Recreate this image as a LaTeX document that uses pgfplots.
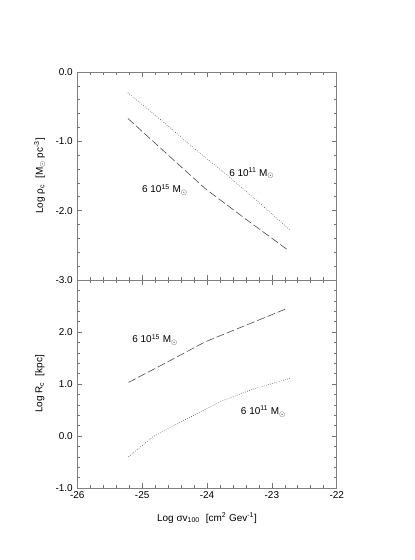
\documentclass[border=0pt]{standalone}
\usepackage{pgfplots}
\pgfplotsset{compat=1.18}
\usepackage{fontspec}
\setmainfont{Liberation Sans}
\newcommand{\Msun}{M\textsubscript{$\odot$}}
\begin{document}
\fontsize{10}{12}\selectfont
\begin{tikzpicture}
\path[use as bounding box] (0,0) rectangle (415bp,560bp);
\pgfplotsset{
  myaxis/.style={
    scale only axis, width=259.4bp, height=208bp,
    xmin=-26, xmax=-22,
    axis line style={draw=black!50, line width=0.8pt},
    tick style={draw=black!55, line width=0.6pt},
    tick align=inside,
    major tick length=5bp, minor tick length=2.7bp,
    minor x tick num=4, minor y tick num=4,
    xtick={-26,-25,-24,-23,-22},
    tick label style={font=\fontsize{10}{12}\selectfont},
    label style={font=\fontsize{10}{12}\selectfont},
    yticklabel style={xshift=-1bp},
  },
  dotline/.style={black!70, line width=0.6pt, dash pattern=on 0.6bp off 1.6bp},
  dashline/.style={black!70, line width=0.6pt, dash pattern=on 8bp off 3bp},
}
\begin{axis}[myaxis, at={(77.3bp,280bp)}, anchor=south west,
  ymin=-3, ymax=0, ytick={-3,-2,-1,0}, yticklabels={-3.0,-2.0,-1.0,0.0},
  xticklabels={},
  ylabel={Log ρ\textsubscript{c}\,\, [\Msun\ pc\textsuperscript{-3}]},
  ylabel style={at={(axis description cs:-0.145,0.5)}, anchor=center},
]
\addplot[dotline] coordinates {(-25.22,-0.30) (-24.70,-0.70) (-24.20,-1.10) (-23.70,-1.48) (-23.20,-1.88) (-22.72,-2.28)};
\addplot[dashline] coordinates {(-25.22,-0.67) (-24.62,-1.18) (-24.03,-1.68) (-23.39,-2.13) (-22.75,-2.57)};
\node at (axis cs:-24.65,-1.70) {6 10\textsuperscript{15} \Msun};
\node at (axis cs:-23.31,-1.46) {6 10\textsuperscript{11} \Msun};
\end{axis}
\begin{axis}[myaxis, at={(77.3bp,72bp)}, anchor=south west,
  ymin=-1, ymax=3, ytick={-1,0,1,2,3}, yticklabels={-1.0,0.0,1.0,2.0,{}},
  xticklabels={-26,-25,-24,-23,-22},
  xlabel={Log σv\textsubscript{100}\,\, [cm\textsuperscript{2} Gev\textsuperscript{-1}]},
  xlabel style={at={(axis description cs:0.5,-0.145)}, anchor=center},
  ylabel={Log R\textsubscript{c}\,\, [kpc]},
  ylabel style={at={(axis description cs:-0.145,0.5)}, anchor=center},
]
\addplot[dashline] coordinates {(-25.21,1.03) (-24.57,1.45) (-24.03,1.81) (-23.40,2.13) (-22.75,2.46)};
\addplot[dotline] coordinates {(-25.21,-0.40) (-24.83,-0.01) (-24.31,0.33) (-23.80,0.66) (-23.29,0.90) (-22.72,1.11)};
\node at (axis cs:-24.80,1.85) {6 10\textsuperscript{15} \Msun};
\node at (axis cs:-23.13,0.47) {6 10\textsuperscript{11} \Msun};
\end{axis}
\end{tikzpicture}
\end{document}
